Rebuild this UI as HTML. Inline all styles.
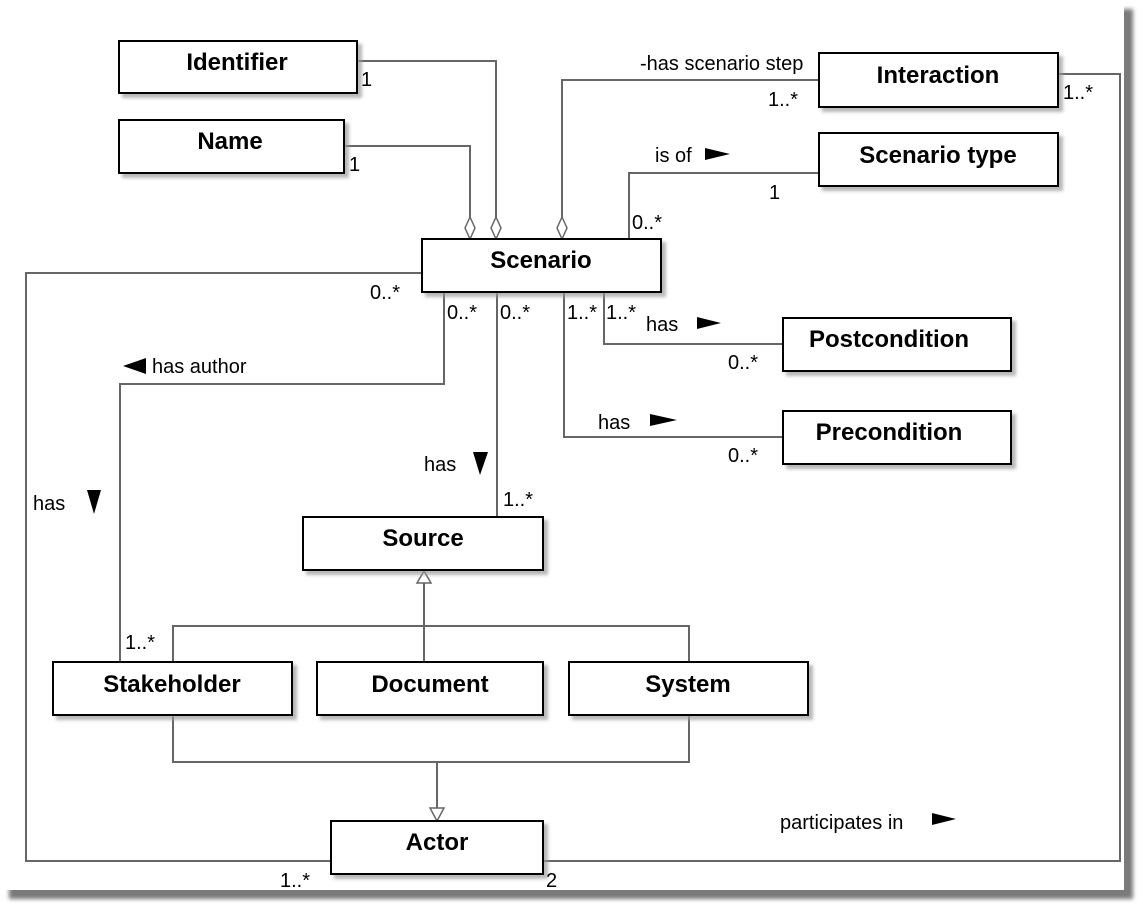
<!DOCTYPE html>
<html><head><meta charset="utf-8"><style>
html,body{margin:0;padding:0;background:#fff;width:1143px;height:908px;overflow:hidden}
#pg{position:absolute;left:0;top:0;width:1124px;height:890px;background:#fff;box-shadow:9px 9px 4px #7a7a7a}
svg{position:absolute;left:0;top:0}
.b{font:bold 24px "Liberation Sans",sans-serif;fill:#000}
.t{font:20px "Liberation Sans",sans-serif;fill:#000}
</style></head><body>
<div id="pg"></div>
<svg width="1143" height="908" viewBox="0 0 1143 908">
<defs><filter id="s" x="-5%" y="-5%" width="115%" height="130%"><feDropShadow dx="4" dy="4" stdDeviation="1.5" flood-color="#999" flood-opacity="0.7"/></filter></defs>
<g fill="none" stroke="#666" stroke-width="2">
<polyline points="357,61 496,61 496,218"/>
<polyline points="344,146 470,146 470,218"/>
<polyline points="819,80 562,80 562,218"/>
<polyline points="819,173 629,173 629,239"/>
<polyline points="422,273 26,273 26,861 331,861"/>
<polyline points="543,861 1120,861 1120,74 1058,74"/>
<polyline points="444,292 444,384 120,384 120,662"/>
<polyline points="497,292 497,517"/>
<polyline points="604,292 604,344 783,344"/>
<polyline points="564,292 564,437 783,437"/>
<polyline points="424,582 424,662"/>
<polyline points="173,662 173,626 689,626 689,662"/>
<polyline points="173,715 173,762 689,762 689,715"/>
<polyline points="437,762 437,808"/>
</g>
<g fill="#fff" stroke="#666" stroke-width="1.5">
<polygon points="496,239 491,228 496,217 501,228"/>
<polygon points="470,239 465,228 470,217 475,228"/>
<polygon points="562,239 557,228 562,217 567,228"/>
<polygon points="424,571 417,583 431,583"/>
<polygon points="437,821 430,808 444,808"/>
</g>
<g fill="#fff" stroke="#000" stroke-width="2" filter="url(#s)">
<rect x="119" y="41" width="238" height="52"/>
<rect x="119" y="120" width="225" height="53"/>
<rect x="422" y="239" width="239" height="53"/>
<rect x="819" y="53" width="239" height="54"/>
<rect x="819" y="133" width="239" height="53"/>
<rect x="783" y="318" width="228" height="53"/>
<rect x="783" y="411" width="228" height="53"/>
<rect x="303" y="517" width="240" height="53"/>
<rect x="53" y="662" width="239" height="53"/>
<rect x="317" y="662" width="226" height="53"/>
<rect x="569" y="662" width="239" height="53"/>
<rect x="331" y="821" width="212" height="53"/>
</g>
<g class="b" text-anchor="middle">
<text x="237" y="70">Identifier</text>
<text x="230" y="149">Name</text>
<text x="541" y="268">Scenario</text>
<text x="938" y="83">Interaction</text>
<text x="938" y="163">Scenario type</text>
<text x="889" y="347">Postcondition</text>
<text x="889" y="440">Precondition</text>
<text x="423" y="546">Source</text>
<text x="172" y="692">Stakeholder</text>
<text x="430" y="692">Document</text>
<text x="688" y="692">System</text>
<text x="437" y="850">Actor</text>
</g>
<g class="t">
<text x="361" y="86">1</text>
<text x="349" y="171">1</text>
<text x="370" y="299">0..*</text>
<text x="447" y="319">0..*</text>
<text x="500" y="319">0..*</text>
<text x="567" y="319">1..*</text>
<text x="606" y="319">1..*</text>
<text x="640" y="70">-has scenario step</text>
<text x="768" y="106">1..*</text>
<text x="1063" y="99">1..*</text>
<text x="655" y="162">is of</text>
<text x="769" y="199">1</text>
<text x="632" y="229">0..*</text>
<text x="646" y="331">has</text>
<text x="728" y="369">0..*</text>
<text x="598" y="429">has</text>
<text x="728" y="462">0..*</text>
<text x="152" y="373">has author</text>
<text x="424" y="471">has</text>
<text x="503" y="506">1..*</text>
<text x="33" y="510">has</text>
<text x="125" y="649">1..*</text>
<text x="780" y="829">participates in</text>
<text x="280" y="887">1..*</text>
<text x="546" y="887">2</text>
</g>
<g fill="#000">
<polygon points="705,148 705,160 730,154"/>
<polygon points="697,317 697,329 721,323"/>
<polygon points="650,414 650,426 677,420"/>
<polygon points="123,366 146,358 146,374"/>
<polygon points="473,452 488,452 480,475"/>
<polygon points="87,490 101,490 94,514"/>
<polygon points="932,813 932,825 956,819"/>
</g>
</svg>
</body></html>
